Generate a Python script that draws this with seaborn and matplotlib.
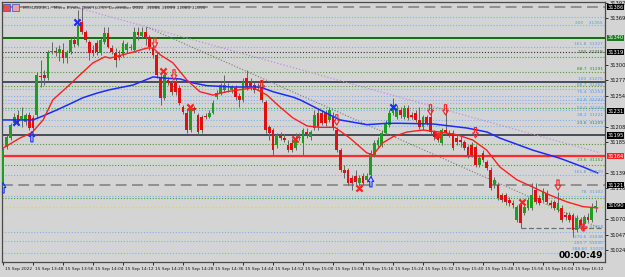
import numpy as np
import pandas as pd
import matplotlib
matplotlib.use("Agg")
import matplotlib.pyplot as plt
import seaborn as sns
from matplotlib.path import Path
from matplotlib.patches import Rectangle
import matplotlib.transforms as mtransforms

# ---------------- data ----------------
opens = [31124, 31178, 31191, 31213, 31225, 31219, 31215, 31225, 31221, 31225,
         31283, 31285, 31280, 31319, 31321, 31318, 31322, 31310, 31319, 31337,
         31330, 31364, 31349, 31334, 31322, 31333, 31318, 31334, 31347, 31325,
         31318, 31315, 31315, 31322, 31325, 31322, 31349, 31343, 31349, 31341,
         31325, 31315, 31282, 31251, 31277, 31273, 31274, 31266, 31237, 31228,
         31203, 31236, 31225, 31222, 31224, 31222, 31228, 31252, 31258, 31263,
         31266, 31263, 31266, 31254, 31248, 31280, 31274, 31270, 31266, 31267,
         31245, 31208, 31203, 31181, 31196, 31191, 31181, 31184, 31176, 31191,
         31184, 31200, 31193, 31206, 31228, 31228, 31228, 31218, 31222, 31203,
         31173, 31144, 31144, 31132, 31135, 31124, 31135, 31129, 31136, 31166,
         31181, 31181, 31199, 31211, 31228, 31222, 31233, 31222, 31236, 31225,
         31228, 31218, 31208, 31222, 31222, 31200, 31196, 31184, 31203, 31199,
         31199, 31191, 31188, 31185, 31178, 31181, 31178, 31151, 31169, 31155,
         31144, 31121, 31121, 31106, 31106, 31099, 31094, 31069, 31091, 31080,
         31087, 31087, 31114, 31102, 31099, 31109, 31094, 31096, 31084, 31087,
         31077, 31077, 31077, 31054, 31069, 31063, 31074, 31069, 31088]
closes = [31173, 31193, 31210, 31222, 31213, 31224, 31225, 31206, 31206, 31285,
          31282, 31280, 31319, 31321, 31319, 31324, 31310, 31319, 31337, 31331,
          31359, 31349, 31337, 31318, 31318, 31319, 31337, 31347, 31327, 31319,
          31307, 31312, 31333, 31331, 31327, 31349, 31344, 31349, 31341, 31327,
          31315, 31285, 31251, 31285, 31273, 31260, 31260, 31243, 31230, 31203,
          31236, 31233, 31200, 31203, 31222, 31228, 31243, 31258, 31270, 31270,
          31265, 31267, 31252, 31248, 31274, 31267, 31267, 31263, 31267, 31248,
          31203, 31199, 31173, 31196, 31191, 31188, 31173, 31173, 31191, 31193,
          31203, 31197, 31200, 31225, 31208, 31213, 31213, 31233, 31206, 31173,
          31144, 31139, 31124, 31124, 31126, 31132, 31124, 31135, 31169, 31184,
          31188, 31199, 31213, 31228, 31237, 31236, 31225, 31236, 31221, 31222,
          31218, 31208, 31222, 31213, 31200, 31193, 31188, 31203, 31199, 31196,
          31176, 31185, 31185, 31176, 31166, 31166, 31151, 31161, 31158, 31147,
          31117, 31129, 31102, 31099, 31096, 31094, 31091, 31088, 31065, 31088,
          31099, 31106, 31096, 31094, 31111, 31096, 31091, 31087, 31094, 31069,
          31074, 31069, 31054, 31072, 31057, 31074, 31069, 31088, 31090]
highs = [31176, 31196, 31213, 31228, 31233, 31237, 31228, 31230, 31225, 31289,
         31307, 31292, 31322, 31334, 31327, 31330, 31333, 31322, 31340, 31343,
         31382, 31385, 31352, 31337, 31330, 31337, 31340, 31356, 31356, 31330,
         31325, 31322, 31337, 31334, 31331, 31356, 31356, 31356, 31356, 31344,
         31330, 31319, 31288, 31288, 31282, 31277, 31280, 31270, 31240, 31233,
         31240, 31239, 31228, 31225, 31228, 31233, 31248, 31263, 31273, 31285,
         31273, 31270, 31270, 31258, 31280, 31292, 31280, 31274, 31273, 31273,
         31248, 31211, 31206, 31199, 31200, 31197, 31188, 31191, 31199, 31199,
         31206, 31206, 31203, 31233, 31236, 31233, 31233, 31237, 31230, 31208,
         31176, 31151, 31147, 31136, 31144, 31136, 31139, 31139, 31173, 31188,
         31193, 31203, 31218, 31233, 31251, 31240, 31237, 31240, 31240, 31230,
         31233, 31237, 31225, 31225, 31237, 31203, 31200, 31206, 31237, 31203,
         31203, 31196, 31194, 31188, 31181, 31185, 31181, 31166, 31173, 31158,
         31148, 31133, 31124, 31109, 31109, 31103, 31099, 31091, 31094, 31091,
         31103, 31124, 31124, 31106, 31117, 31114, 31099, 31099, 31111, 31091,
         31081, 31081, 31080, 31077, 31074, 31077, 31080, 31094, 31099]
lows = [31121, 31175, 31188, 31210, 31210, 31208, 31210, 31203, 31200, 31221,
        31267, 31270, 31277, 31316, 31313, 31306, 31303, 31303, 31316, 31327,
        31328, 31346, 31334, 31307, 31313, 31315, 31315, 31331, 31325, 31316,
        31297, 31307, 31312, 31319, 31322, 31319, 31337, 31340, 31330, 31322,
        31310, 31280, 31240, 31248, 31270, 31255, 31255, 31240, 31227, 31199,
        31200, 31228, 31196, 31199, 31219, 31221, 31227, 31249, 31255, 31260,
        31260, 31258, 31248, 31237, 31245, 31263, 31263, 31258, 31263, 31245,
        31199, 31188, 31166, 31176, 31188, 31185, 31170, 31170, 31173, 31188,
        31166, 31191, 31188, 31203, 31203, 31210, 31209, 31215, 31203, 31170,
        31141, 31132, 31121, 31114, 31121, 31120, 31121, 31126, 31133, 31163,
        31178, 31178, 31196, 31208, 31225, 31219, 31221, 31219, 31218, 31219,
        31215, 31205, 31203, 31210, 31197, 31188, 31185, 31181, 31196, 31193,
        31173, 31181, 31178, 31173, 31161, 31163, 31148, 31148, 31155, 31144,
        31114, 31117, 31099, 31096, 31091, 31090, 31087, 31066, 31057, 31077,
        31084, 31084, 31093, 31091, 31096, 31093, 31087, 31084, 31081, 31066,
        31069, 31066, 31044, 31051, 31054, 31060, 31066, 31066, 31081]

# moving averages (bar position, price)
red_ma_x = [0, 4.5, 7.7, 10.7, 13.3, 17.1, 20.5, 24, 27.2, 28.5, 34.7, 38.4, 40,
            41.9, 45.3, 49.1, 52.5, 56, 59.7, 63.2, 66.7, 70.4, 73.9, 77.3, 81.1,
            84.5, 88.5, 92.5, 97, 98.7, 101.3, 104, 107.7, 112, 116.5, 121, 125.3,
            129, 132.5, 137, 141.3, 145.9, 150.4, 154.7, 158.6]
red_ma_y = [31176, 31191, 31199, 31218, 31248, 31267, 31285, 31303, 31312, 31310,
            31319, 31325, 31325, 31315, 31303, 31277, 31260, 31255, 31260, 31263,
            31266, 31255, 31237, 31221, 31209, 31207, 31207, 31191, 31169, 31166,
            31184, 31193, 31200, 31203, 31200, 31196, 31188, 31173, 31148, 31129,
            31118, 31106, 31096, 31089, 31087]
blue_ma_x = [0, 8, 10.7, 14.4, 17.9, 21.3, 25.1, 28.5, 34.7, 40, 43.7, 47.2, 50.7,
             54.4, 61.3, 68.5, 72, 77.3, 79.2, 84.5, 89.9, 97, 102.4, 105.9, 114.7,
             123.7, 129.1, 132.5, 141.3, 148.5, 154.7, 158.6]
blue_ma_y = [31218, 31218, 31224, 31233, 31242, 31251, 31258, 31263, 31270, 31282,
             31280, 31279, 31273, 31269, 31267, 31267, 31260, 31252, 31248, 31233,
             31218, 31211, 31213, 31213, 31212, 31206, 31200, 31191, 31173, 31161,
             31148, 31139]

# signal markers (bar position, price)
blue_x_pos = [3.5, 19.7, 104]
blue_x_price = [31215, 31364, 31237]
red_x_pos = [42.7, 49.9, 77.9, 95, 116, 138.4]
red_x_price = [31291, 31237, 31190, 31117, 31196, 31096]
up_arrow_pos = [0, 7.7, 98.1]
up_arrow_price = [31117, 31193, 31126]
down_arrow_pos = [40.5, 45.6, 69, 89, 114, 118, 126, 148]
down_arrow_price = [31333, 31285, 31269, 31218, 31233, 31233, 31199, 31121]
plus_pos = [154.7]
plus_price = [31059]

# horizontal levels
green_solid = [31340]
dark_solid = [31274, 31195]
red_solid = [31164]
grey_dashed = [31386, 31121]
black_dotted = [31319]
yellow_dotted = [31088]
blue_dotted = [31371, 31359, 31327, 31264, 31254, 31248, 31243, 31233, 31218,
               31209, 31136, 31105, 31051, 31038, 31020]
green_dotted = [31312, 31289, 31269, 31236, 31182, 31151, 31102]
short_dash_level = 31057
short_dash_from, short_dash_to = 138, 159.5

# trend lines: (start bar, start price, end bar, end price)
purple_trend = (20.5, 31384, 159.2, 31169)
grey_trend = (38.4, 31356, 159.2, 31057)

# fibo labels on the right
fib_texts = ["200    31355", "161.8  31327", "100  31318", "88.7  31291",
             "100  31275", "88.7  31266", "76.4  31254", "61.8  31243",
             "50.0  31233", "38.2  31221", "23.6  31209", "23.6  31152",
             "161.8  31139", "78  31102", "78.6  31058", "270.6  31038",
             "200.7  31030", "388.60  31020"]
fib_prices = [31362, 31331, 31319, 31294, 31279, 31270, 31260, 31248, 31236,
              31225, 31213, 31158, 31141, 31111, 31059, 31044, 31035, 31026]
fib_colors = ["#5c98e6", "#5c98e6", "#2e6b1e", "#3f8a25", "#5c98e6", "#5c98e6",
              "#5c98e6", "#5c98e6", "#5c98e6", "#5c98e6", "#3f8a25", "#3f8a25",
              "#5c98e6", "#5c98e6", "#5c98e6", "#5c98e6", "#5c98e6", "#5c98e6"]

# price axis (labels hidden under a price box are left out)
price_ticks = [31392, 31369, 31300, 31277, 31254, 31208,
               31185, 31139, 31116, 31070, 31047, 31024]
box_prices = [31386, 31340, 31319, 31231, 31195, 31164, 31121, 31090]
box_colors = ["black", "#1c7a1c", "black", "black", "black", "#ff2020", "black", "black"]

# time axis
time_tick_pos = list(range(0, 153, 8))
time_labels = ["15 Sep 2022", "15 Sep 13:48", "15 Sep 13:56", "15 Sep 14:04",
               "15 Sep 14:12", "15 Sep 14:20", "15 Sep 14:28", "15 Sep 14:36",
               "15 Sep 14:44", "15 Sep 14:52", "15 Sep 15:00", "15 Sep 15:08",
               "15 Sep 15:16", "15 Sep 15:24", "15 Sep 15:32", "15 Sep 15:40",
               "15 Sep 15:48", "15 Sep 15:56", "15 Sep 16:04", "15 Sep 16:12"]
symbol_text = "MYMZ22,M1:  Micro E-mini Dow ($0.5): December 2022"
countdown = "00:00:49"

# ---------------- drawing ----------------
sns.set_theme(style="white")
plt.rcParams["font.family"] = ["DejaVu Sans"]
BG = "#d4d4d4"

fig = plt.figure(figsize=(6.25, 2.77), dpi=100, facecolor=BG)
ax = fig.add_axes([2 / 625, 15 / 277, 603 / 625, 260 / 277])
ax.set_facecolor(BG)

ax.set_xlim(-0.27, 160.53)
ax.set_ylim(31006.6, 31393.5)

dot = (0, (1, 1.6))
for p in blue_dotted:
    ax.axhline(p, color="#7fb2ee", lw=0.8, ls=dot, zorder=1)
for p in green_dotted:
    ax.axhline(p, color="#4f9a3a", lw=0.8, ls=dot, zorder=1)
for p in black_dotted:
    ax.axhline(p, color="#333333", lw=0.8, ls=dot, zorder=1)
for p in yellow_dotted:
    ax.axhline(p, color="#e8e000", lw=1.0, ls=dot, zorder=1)
for p in grey_dashed:
    ax.axhline(p, color="#8a8a8a", lw=1.3, ls=(0, (6, 3)), zorder=1)
for p in green_solid:
    ax.axhline(p, color="#0e6e0e", lw=1.4, zorder=1)
for p in dark_solid:
    ax.axhline(p, color="#1e2a40", lw=1.1, zorder=1)
for p in red_solid:
    ax.axhline(p, color="#ff2a2a", lw=1.6, zorder=1)
ax.plot([short_dash_from, short_dash_to], [short_dash_level, short_dash_level],
        color="#707070", lw=0.9, ls=(0, (4, 2)), zorder=1)

ax.plot([purple_trend[0], purple_trend[2]], [purple_trend[1], purple_trend[3]],
        color="#c090e0", lw=0.9, ls=dot, zorder=2)
ax.plot([grey_trend[0], grey_trend[2]], [grey_trend[1], grey_trend[3]],
        color="#7a7a7a", lw=0.8, ls=dot, zorder=2)

# candles
idx = np.arange(len(opens))
o = np.array(opens, float)
c = np.array(closes, float)
h = np.array(highs, float)
l = np.array(lows, float)
up = c >= o
ax.vlines(idx, l, h, color="#666666", lw=0.7, zorder=3)
bottom = np.minimum(o, c)
height = np.maximum(np.abs(c - o), 1.2)
ax.bar(idx, height, bottom=bottom, width=0.68,
       color=np.where(up, "#1e9e1e", "#e01010"), linewidth=0, zorder=4)

# moving averages via seaborn
df_red = pd.DataFrame({"bar": red_ma_x, "price": red_ma_y})
df_blue = pd.DataFrame({"bar": blue_ma_x, "price": blue_ma_y})
sns.lineplot(data=df_blue, x="bar", y="price", ax=ax, color="#1a2cff", lw=1.1,
             estimator=None, legend=False, zorder=5)
sns.lineplot(data=df_red, x="bar", y="price", ax=ax, color="#ff1e1e", lw=1.0,
             estimator=None, legend=False, zorder=5)

# arrows
up_verts = [(-0.22, -1), (0.22, -1), (0.22, 0.05), (0.55, 0.05), (0, 1),
            (-0.55, 0.05), (-0.22, 0.05), (-0.22, -1)]
codes = [Path.MOVETO] + [Path.LINETO] * 6 + [Path.CLOSEPOLY]
up_path = Path(up_verts, codes)
down_path = Path([(x, -y) for x, y in up_verts], codes)

ax.scatter(up_arrow_pos, up_arrow_price, marker=up_path, s=55, facecolors="none",
           edgecolors="#1a2cff", linewidths=0.8, zorder=6)
ax.scatter(down_arrow_pos, down_arrow_price, marker=down_path, s=55,
           facecolors="none", edgecolors="#ff2020", linewidths=0.8, zorder=6)
ax.scatter(blue_x_pos, blue_x_price, marker="x", s=20, color="#1a2cff",
           linewidths=1.6, zorder=6)
ax.scatter(red_x_pos, red_x_price, marker="x", s=20, color="#ff2020",
           linewidths=1.6, zorder=6)
ax.scatter(plus_pos, plus_price, marker="+", s=28, color="#ff2020",
           linewidths=1.8, zorder=6)

# fibo labels
trans_r = mtransforms.blended_transform_factory(ax.transAxes, ax.transData)
for t, p, col in zip(fib_texts, fib_prices, fib_colors):
    ax.text(0.997, p, t, transform=trans_r, ha="right", va="center",
            fontsize=3.2, color=col, zorder=7)

# axes styling
for s in ax.spines.values():
    s.set_color("#4a4a4a")
    s.set_linewidth(0.9)
ax.yaxis.tick_right()
ax.set_yticks(price_ticks)
ax.set_yticklabels([str(v) for v in price_ticks])
ax.tick_params(axis="y", length=2, width=0.6, pad=1, labelsize=3.7,
               colors="#111111", right=True, left=False)
ax.set_xticks(time_tick_pos)
ax.set_xticklabels(time_labels, ha="left")
ax.tick_params(axis="x", length=2.5, width=0.6, pad=0.8, labelsize=3.1,
               colors="#111111", bottom=True)
for lab in ax.get_xticklabels():
    lab.set_transform(lab.get_transform() + mtransforms.ScaledTranslation(1.5 / 100, 0, fig.dpi_scale_trans))
ax.set_xlabel("")
ax.set_ylabel("")
ax.grid(False)

# price boxes on the axis
for p, col in zip(box_prices, box_colors):
    ax.text(1.004, p, str(p), transform=trans_r, ha="left", va="center",
            fontsize=3.7, color="white", clip_on=False, zorder=10,
            bbox=dict(boxstyle="square,pad=0.12", fc=col, ec="none"))

# countdown
ax.text(0.997, 0.006, countdown, transform=ax.transAxes, ha="right", va="bottom",
        fontsize=6.5, fontweight="bold", color="black", zorder=8)

# title with icons
fig.add_artist(Rectangle((3 / 625, 1 - 11 / 277), 7 / 625, 7 / 277,
                         transform=fig.transFigure, fc="#e05050", ec="#3050c0", lw=0.5))
fig.add_artist(Rectangle((12 / 625, 1 - 11 / 277), 7 / 625, 7 / 277,
                         transform=fig.transFigure, fc="#f0a0a0", ec="#3050c0", lw=0.5))
title = "%s  %d %d %d %d" % (symbol_text, opens[-1], highs[-1], lows[-1], closes[-1])
fig.text(23 / 625, 1 - 7.5 / 277, title, fontsize=3.2, color="#333333",
         ha="left", va="center")

fig.savefig("out.png", dpi=100, facecolor=BG)
